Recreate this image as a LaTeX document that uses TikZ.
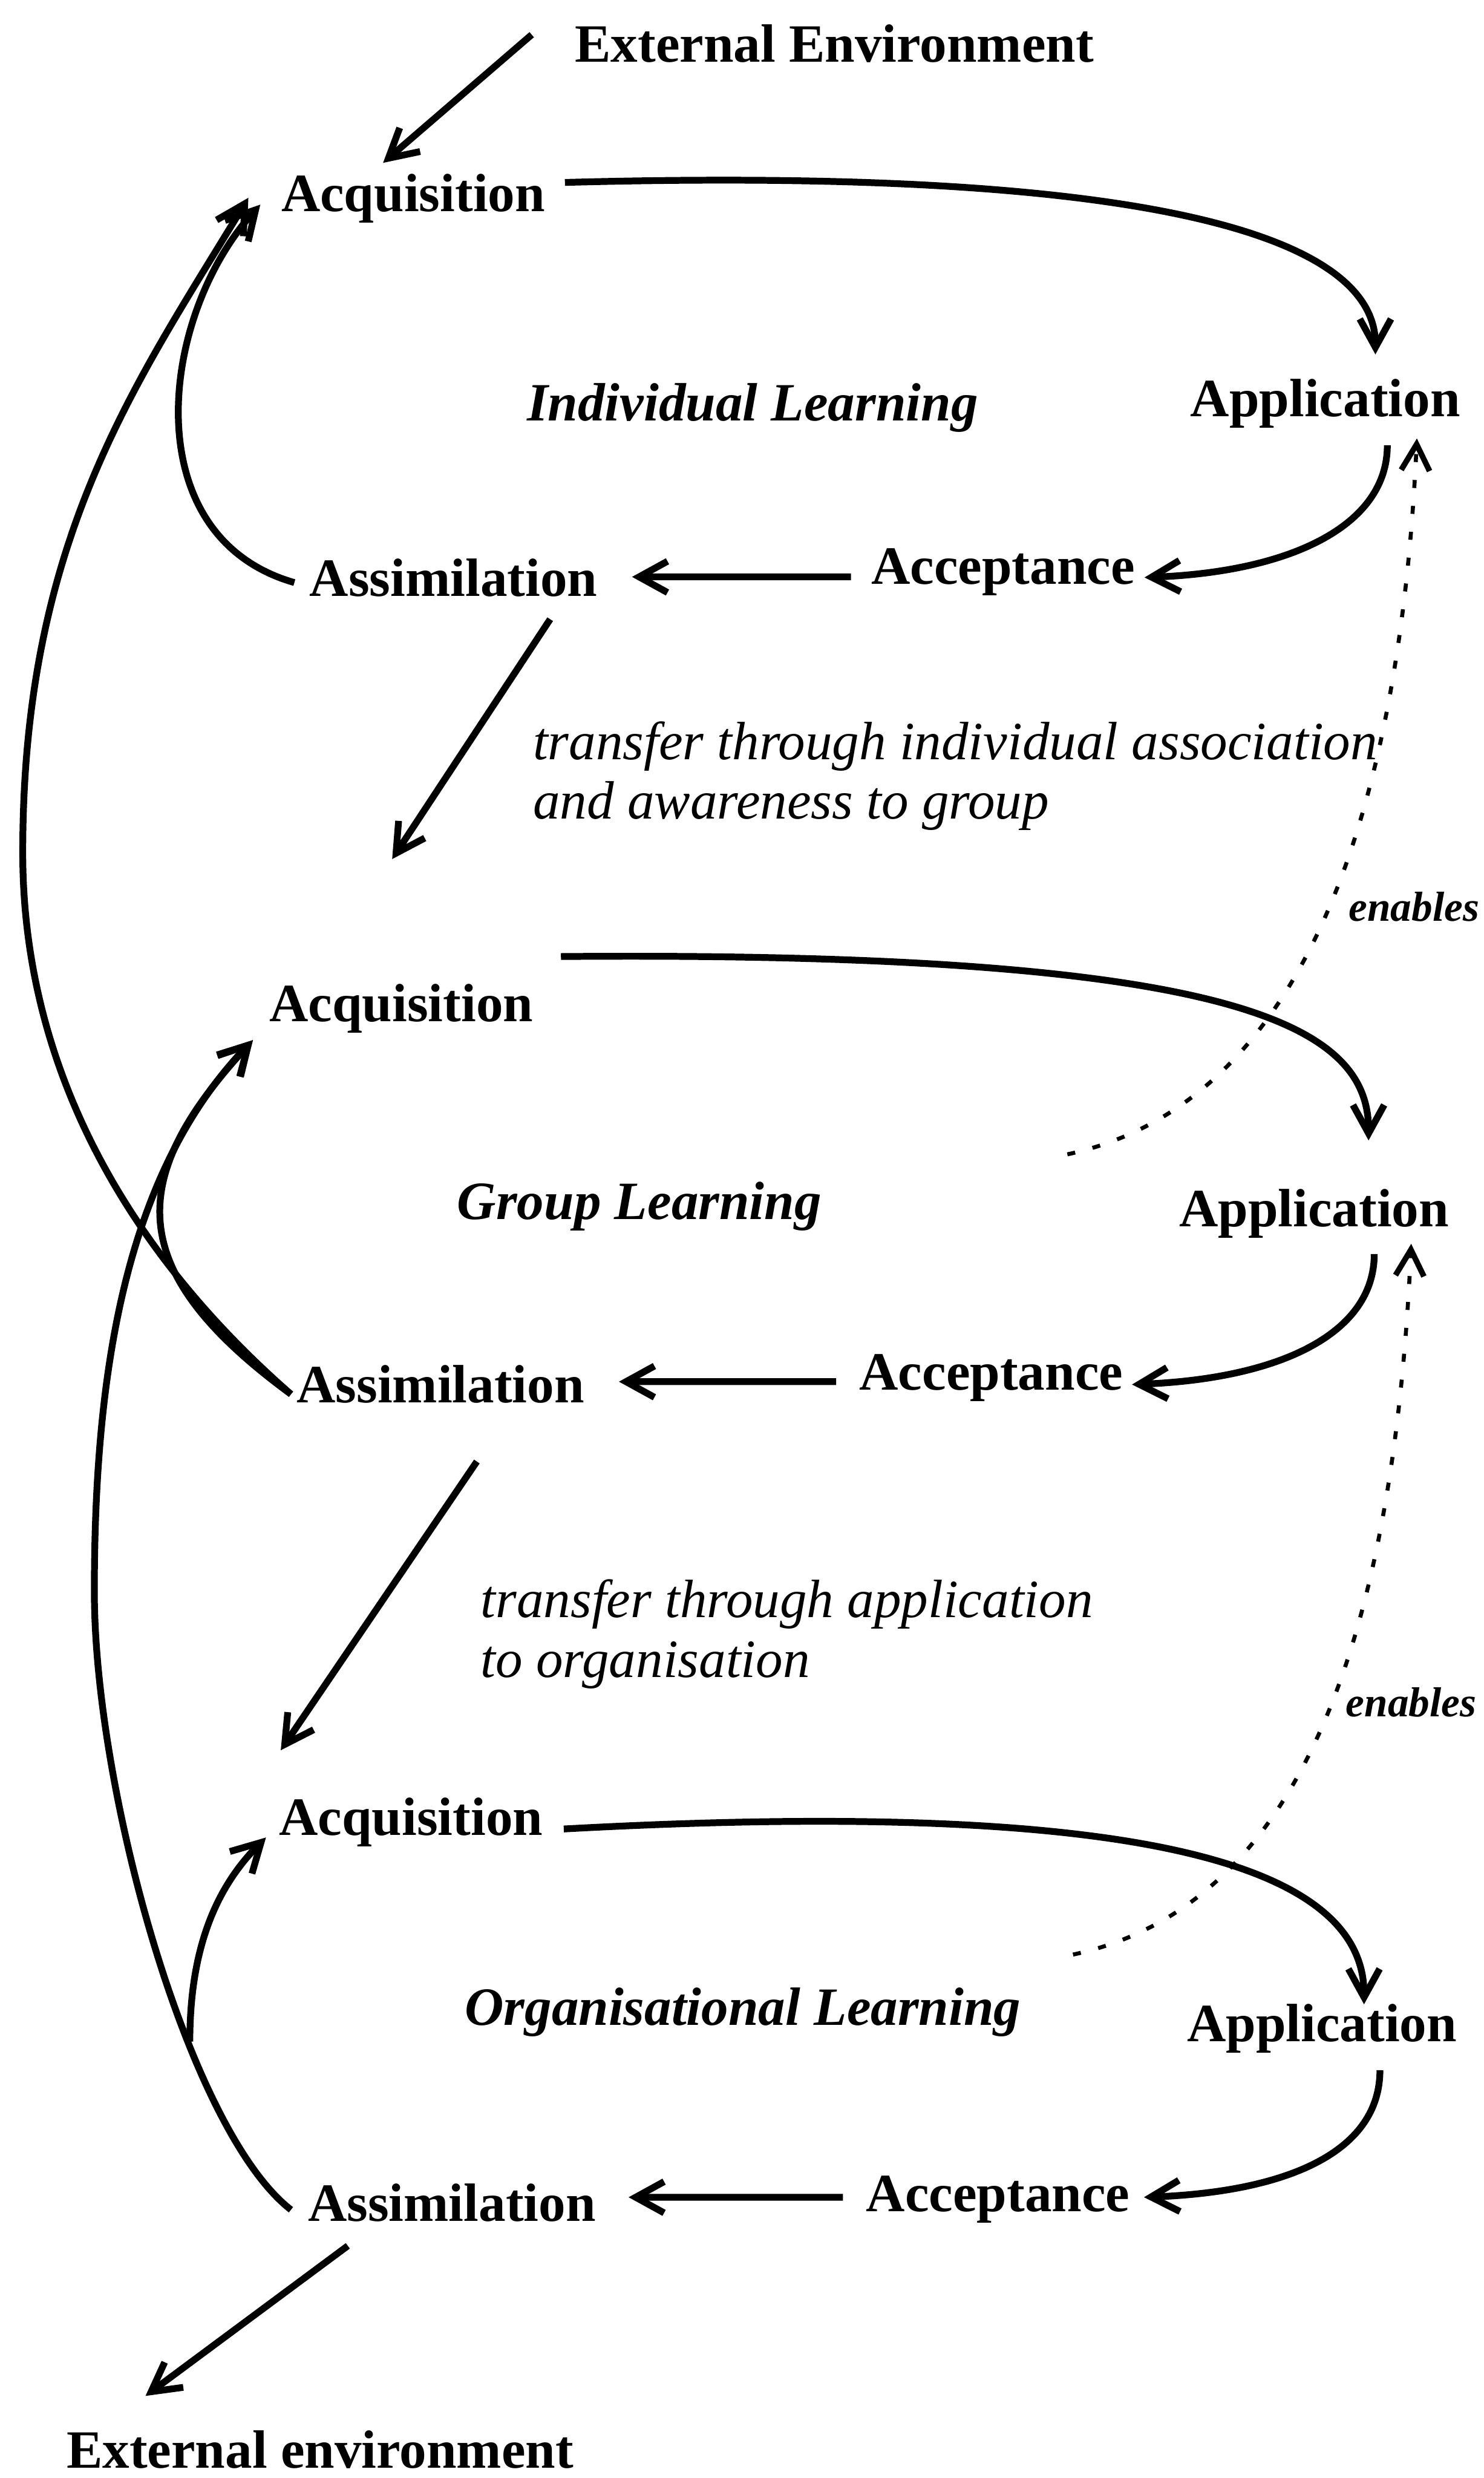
\documentclass[tikz,border=0pt]{standalone}
\usepackage{fontspec}
\setmainfont{Liberation Serif}
\usetikzlibrary{arrows.meta, calc}

\begin{document}
\begin{tikzpicture}[
    line width=3.4pt,
    stage/.style={font=\bfseries\fontsize{27}{32}\selectfont, inner sep=0pt,
      text height=0.63cm, text depth=0pt},
    level/.style={font=\bfseries\itshape\fontsize{27}{32}\selectfont, inner sep=0pt,
      text height=0.63cm, text depth=0pt},
    note/.style={font=\itshape\fontsize{27}{29.8}\selectfont, inner sep=0pt,
      align=left, anchor=west},
    tag/.style={font=\bfseries\itshape\fontsize{21}{24}\selectfont, inner sep=0pt},
    arr/.style={-{Straight Barb[length=5mm, width=5.5mm]}},
    dots/.style={line width=2pt, dash pattern=on 4pt off 9pt,
      -{Straight Barb[length=4.6mm, width=5mm, line width=2.8pt]}}
  ]

  \useasboundingbox (0, 0) rectangle (26.11, -43.60);

  %% =================== INDIVIDUAL LEARNING ===================

  \node[stage] (extTop) at (14.68, -0.78) {External Environment};
  \node[stage] (acqInd) at (7.27, -3.40) {Acquisition};
  \node[stage] (appInd) at (23.32, -7.01) {Application};
  \node[level] (lblInd) at (13.24, -7.09) {Individual Learning};
  \node[stage] (accInd) at (17.65, -9.96) {Acceptance};
  \node[stage] (asmInd) at (7.98, -10.18) {Assimilation};
  \node[note]  (trInd)  at (9.32, -13.65)
    {transfer through individual association\\and awareness to group};
  \node[tag]   (enInd)  at (24.88, -15.95) {enables};

  %% ===================== GROUP LEARNING ======================

  \node[stage] (acqGrp) at (7.06, -17.66) {Acquisition};
  \node[level] (lblGrp) at (11.25, -21.14) {Group Learning};
  \node[stage] (appGrp) at (23.12, -21.27) {Application};
  \node[stage] (accGrp) at (17.44, -24.14) {Acceptance};
  \node[stage] (asmGrp) at (7.75, -24.36) {Assimilation};
  \node[note]  (trGrp)  at (8.40, -28.75)
    {transfer through application\\to organisation};
  \node[tag]   (enGrp)  at (24.83, -29.95) {enables};

  %% ================= ORGANISATIONAL LEARNING =================

  \node[stage] (acqOrg) at (7.23, -31.98) {Acquisition};
  \node[level] (lblOrg) at (13.07, -35.32) {Organisational Learning};
  \node[stage] (appOrg) at (23.26, -35.60) {Application};
  \node[stage] (accOrg) at (17.56, -38.60) {Acceptance};
  \node[stage] (asmOrg) at (7.95, -38.77) {Assimilation};
  \node[stage] (extBot) at (5.63, -43.11) {External environment};

  % bends of the two long feedback curves, free ends of the dotted lines
  \coordinate (bendA) at (0.40, -15.00);
  \coordinate (bendB) at (1.66, -28.00);
  \coordinate (junOrg) at (3.34, -35.92);
  \coordinate (enStartA) at (18.78, -20.31);
  \coordinate (enStartB) at (18.88, -34.39);

  %% ======================= CYCLES ============================

  % individual cycle
  \draw[arr] ($(extTop.west)+(-0.7, 0.17)$) -- ($(acqInd.north)+(-0.53, 0.16)$);
  \draw[arr] ($(acqInd.east)+(0.29, 0.19)$)
    .. controls +(11, 0.3) and +(0, 1.9) .. ($(appInd.north)+(0.88, 0.40)$);
  \draw[arr] ($(appInd.south)+(1.09, -0.45)$)
    .. controls +(0, -1.4) and +(2.6, 0.1) .. ($(accInd.east)+(0.11, -0.20)$);
  \draw[arr] ($(accInd.west)+(-0.3, -0.19)$) -- ($(asmInd.east)+(0.55, 0.03)$);
  \draw[arr] ($(asmInd.west)+(-0.21, -0.07)$)
    .. controls +(-2.8, 0.8) and +(-1.8, -2.0) .. ($(acqInd.west)+(-0.31, -0.20)$);
  \draw[arr] ($(asmInd.south)+(1.70, -0.34)$) -- ($(acqGrp.north)+(-0.16, 2.17)$);

  % group cycle
  \draw[arr] ($(acqGrp.east)+(0.43, 0.83)$)
    .. controls +(12, 0.1) and +(0, 2.0) .. ($(appGrp.north)+(0.96, 0.83)$);
  \draw[arr] ($(appGrp.south)+(1.06, -0.42)$)
    .. controls +(0, -1.4) and +(2.6, 0.1) .. ($(accGrp.east)+(0.10, -0.22)$);
  \draw[arr] ($(accGrp.west)+(-0.35, -0.17)$) -- ($(asmGrp.east)+(0.55, 0.05)$);
  \draw[arr] ($(asmGrp.west)+(-0.04, -0.17)$)
    .. controls +(-3.0, 2.2) and +(-2.2, -2.4) .. ($(acqGrp.west)+(-0.23, -0.64)$);
  \draw[arr] ($(asmGrp.south)+(0.64, -0.98)$) -- ($(acqOrg.north)+(-2.29, 0.81)$);

  % organisational cycle
  \draw[arr] ($(acqOrg.east)+(0.31, -0.20)$)
    .. controls +(11, 0.6) and +(0, 2.2) .. ($(appOrg.north)+(0.74, -0.04)$);
  \draw[arr] ($(appOrg.south)+(1.02, -0.45)$)
    .. controls +(0, -1.4) and +(2.6, 0.1) .. ($(accOrg.east)+(0.19, -0.06)$);
  \draw[arr] ($(accOrg.west)+(-0.35, -0.06)$) -- ($(asmOrg.east)+(0.52, 0.11)$);
  \draw[arr] (junOrg)
    .. controls +(0, 1.6) and +(-0.9, -0.9) .. ($(acqOrg.west)+(-0.17, -0.35)$);
  \draw[arr] ($(asmOrg.south)+(-1.83, -0.37)$) -- ($(extBot.north)+(-3.07, 0.58)$);

  %% =================== FEEDBACK BETWEEN LEVELS ===================

  % group assimilation back to individual acquisition
  \draw[arr] ($(asmGrp.west)+(-0.04, -0.17)$)
    .. controls +(-2.67, 2.33) and +(0, -4) .. (bendA)
    .. controls +(0, 5.5) and +(-2.0, -3.3) .. ($(acqInd.west)+(-0.52, -0.08)$);
  % organisational assimilation back to group acquisition
  \draw[arr] ($(asmOrg.west)+(-0.24, -0.11)$)
    .. controls +(-1.8, 1.4) and +(0, -3.5) .. (bendB)
    .. controls +(0, 4) and +(-2.2, -2.3) .. ($(acqGrp.west)+(-0.23, -0.64)$);

  % enables (dotted)
  \draw[dots] (enStartA)
    .. controls +(4.2, 0.9) and +(-0.3, -6.5) .. ($(appInd.south)+(1.61, -0.33)$);
  \draw[dots] (enStartB)
    .. controls +(4.2, 0.9) and +(-0.3, -6.5) .. ($(appGrp.south)+(1.71, -0.24)$);

\end{tikzpicture}
\end{document}
